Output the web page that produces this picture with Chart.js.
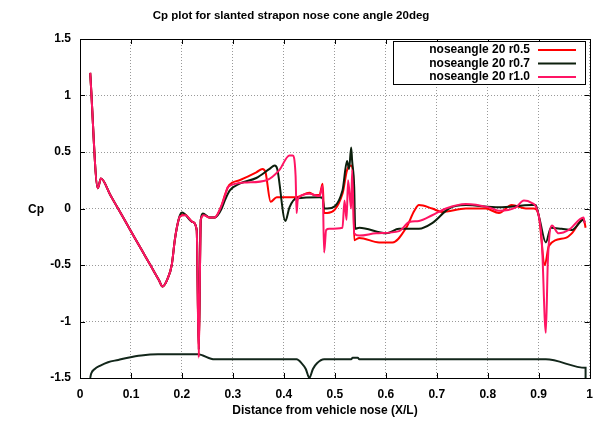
<!DOCTYPE html>
<html>
<head>
<meta charset="utf-8">
<script src="https://cdn.jsdelivr.net/npm/chart.js@4/dist/chart.umd.min.js"></script>
<style>
  html, body { margin: 0; padding: 0; background: #fff; }
</style>
</head>
<body>
<canvas id="myChart" width="602" height="421"></canvas>
<script>
'use strict'
// Cp vs X/L
const xTicks = [0, 0.1, 0.2, 0.3, 0.4, 0.5, 0.6, 0.7, 0.8, 0.9, 1];
const yTicks = [-1.5, -1, -0.5, 0, 0.5, 1, 1.5];
const seriesNames = ['noseangle 20 r0.5', 'noseangle 20 r0.7', 'noseangle 20 r1.0'];

// shared nose part of all three runs
const noseX = [0.02, 0.035, 0.041, 0.06, 0.08, 0.098, 0.12, 0.14, 0.155, 0.162, 0.172, 0.18, 0.186, 0.19];
const noseY = [1.2, 0.18, 0.265, 0.115, -0.043, -0.185, -0.359, -0.516, -0.635, -0.69, -0.62, -0.5, -0.28, -0.17];

const r05X = noseX.concat([0.196, 0.205, 0.221, 0.229, 0.233, 0.237, 0.243, 0.254, 0.264,
  0.27, 0.278, 0.285, 0.293, 0.313, 0.346, 0.358, 0.364, 0.374, 0.386, 0.425, 0.45, 0.46, 0.47, 0.476, 0.479, 0.485, 0.515, 0.524, 0.532, 0.536, 0.538,
  0.548, 0.587, 0.613, 0.64, 0.656, 0.665, 0.691, 0.71, 0.757, 0.796, 0.822, 0.847, 0.875, 0.89, 0.9, 0.912, 0.92, 0.953, 0.965, 0.988, 0.992]);
const r05Y = noseY.concat([-0.07, -0.05, -0.12, -0.19, -1.3, -0.1, -0.055, -0.08, -0.08,
  -0.05, 0.03, 0.13, 0.21, 0.25, 0.32, 0.35, 0.32, 0.06, 0.1, 0.1, 0.14, 0.12, 0.12, 0.22, -0.04, -0.04, 0.13, 0.34, 0.38, 0.29, -0.28,
  -0.26, -0.3, -0.3, -0.17, -0.02, 0.03, 0, -0.03, 0, 0, -0.04, 0.03, 0, 0, -0.06, -0.5, -0.33, -0.26, -0.22, -0.09, -0.17]);

const r07X = noseX.concat([0.196, 0.2, 0.221, 0.229, 0.233, 0.237, 0.241, 0.254, 0.264,
  0.27, 0.278, 0.285, 0.294, 0.313, 0.346, 0.372, 0.382, 0.387, 0.403, 0.411, 0.425, 0.47, 0.476, 0.479, 0.485, 0.515, 0.524, 0.528, 0.532, 0.534, 0.538, 0.54,
  0.548, 0.601, 0.626, 0.665, 0.691, 0.724, 0.757, 0.822, 0.886, 0.894, 0.902, 0.914, 0.924, 0.945, 0.965, 0.988, 0.99]);
const r07Y = noseY.concat([-0.06, -0.035, -0.12, -0.19, -1.25, -0.1, -0.045, -0.08, -0.08,
  -0.06, 0.0, 0.08, 0.16, 0.22, 0.27, 0.35, 0.38, 0.35, -0.11, 0.01, 0.09, 0.1, 0.09, 0, 0, 0.16, 0.42, 0.35, 0.54, 0.42, 0.19, -0.18,
  -0.17, -0.22, -0.18, -0.18, -0.13, 0, 0.03, 0.01, 0.03, 0.03, -0.1, -0.3, -0.17, -0.18, -0.19, -0.1, -0.12]);

const r10X = noseX.concat([0.196, 0.207, 0.221, 0.229, 0.233, 0.237, 0.243, 0.254, 0.264,
  0.27, 0.278, 0.285, 0.29, 0.327, 0.366, 0.391, 0.411, 0.417, 0.423, 0.425, 0.427, 0.43, 0.45, 0.47, 0.476, 0.479, 0.483, 0.489, 0.515, 0.519, 0.523,
  0.526, 0.532, 0.534, 0.538, 0.548, 0.581, 0.626, 0.646, 0.665, 0.691, 0.718, 0.757, 0.802, 0.822, 0.855, 0.871, 0.886, 0.896,
  0.906, 0.914, 0.918, 0.926, 0.939, 0.959, 0.988, 0.99]);
const r10Y = noseY.concat([-0.07, -0.06, -0.12, -0.19, -1.32, -0.1, -0.06, -0.08, -0.08,
  -0.05, 0.03, 0.12, 0.19, 0.23, 0.25, 0.34, 0.47, 0.47, 0.29, -0.04, 0.07, 0.1, 0.13, 0.11, 0.2, -0.39, -0.19, -0.18, -0.17, 0.07, -0.1,
  0.25, 0, 0.34, -0.22, -0.24, -0.22, -0.2, -0.12, -0.11, -0.06, 0, 0.04, 0.01, -0.02, 0.01, 0.07, 0.05, 0,
  -0.28, -1.1, -0.46, -0.15, -0.22, -0.19, -0.08, -0.13]);

// body outline along the bottom
const bodyX = [0.02, 0.022, 0.029, 0.04, 0.055, 0.075, 0.094, 0.12, 0.153, 0.231, 0.264, 0.425, 0.435, 0.443, 0.45, 0.457, 0.465,
  0.479, 0.532, 0.535, 0.545, 0.548, 0.914, 0.992, 0.992];
const bodyY = [-1.5, -1.46, -1.42, -1.39, -1.36, -1.34, -1.32, -1.3, -1.29, -1.29, -1.335, -1.335, -1.37, -1.42, -1.5, -1.42, -1.37,
  -1.335, -1.335, -1.32, -1.32, -1.335, -1.335, -1.41, -1.5];

const colors = ['#ff0000', '#0c1f0c', '#ff1464'];
const FONT = "'Liberation Sans', Arial, sans-serif";

function toPoints(xs, ys) {
    let pts = [];
    for (let i = 0; i < xs.length; i++) pts.push({ x: xs[i], y: ys[i] });
    return pts;
}

function lineSet(label, xs, ys, color, order) {
    return {
        label: label,
        data: toPoints(xs, ys),
        borderColor: color,
        backgroundColor: color,
        borderWidth: 2,
        pointRadius: 0,
        showLine: true,
        cubicInterpolationMode: 'monotone',
        order: order
    };
}

// gnuplot-like frame, inward ticks, title, axis labels and legend box
const decor = {
    id: 'decor',
    afterDraw(chart) {
        const ctx = chart.ctx;
        const a = chart.chartArea;
        const xs = chart.scales.x;
        const ys = chart.scales.y;
        ctx.save();
        ctx.strokeStyle = '#000';
        ctx.lineWidth = 1;
        ctx.beginPath();
        for (const v of xTicks) {
            const p = Math.round(xs.getPixelForValue(v)) + 0.5;
            ctx.moveTo(p, a.bottom); ctx.lineTo(p, a.bottom - 5);
            ctx.moveTo(p, a.top); ctx.lineTo(p, a.top + 5);
        }
        for (const v of yTicks) {
            const p = Math.round(ys.getPixelForValue(v)) + 0.5;
            ctx.moveTo(a.left, p); ctx.lineTo(a.left + 5, p);
            ctx.moveTo(a.right, p); ctx.lineTo(a.right - 5, p);
        }
        ctx.stroke();
        ctx.strokeRect(Math.round(a.left) + 0.5, Math.round(a.top) + 0.5, Math.round(a.right - a.left), Math.round(a.bottom - a.top));

        ctx.fillStyle = '#000';
        ctx.font = 'bold 11.5px ' + FONT;
        ctx.textAlign = 'center';
        ctx.textBaseline = 'middle';
        ctx.fillText('Cp plot for slanted strapon nose cone angle 20deg', 291, 16);
        ctx.font = 'bold 12px ' + FONT;
        ctx.fillText('Cp', 36, 210);
        ctx.fillText('Distance from vehicle nose (X/L)', 325, 411);

        // legend
        const bx = 393, by = 41, bw = 192, bh = 43;
        ctx.fillStyle = '#fff';
        ctx.fillRect(bx, by, bw, bh);
        ctx.strokeStyle = '#000';
        ctx.strokeRect(bx + 0.5, by + 0.5, bw, bh);
        ctx.textAlign = 'right';
        for (let i = 0; i < seriesNames.length; i++) {
            const ty = by + 9 + i * 13.5;
            ctx.fillStyle = '#000';
            ctx.fillText(seriesNames[i], 530, ty);
            ctx.strokeStyle = colors[i];
            ctx.lineWidth = 2;
            ctx.beginPath();
            ctx.moveTo(538, ty);
            ctx.lineTo(576, ty);
            ctx.stroke();
            ctx.lineWidth = 1;
        }
        ctx.restore();
    }
};

const ctx = document.getElementById('myChart');
const myChart = new Chart(ctx, {
    type: 'scatter',
    data: {
        datasets: [
            lineSet(seriesNames[0], r05X, r05Y, colors[0], 3),
            lineSet(seriesNames[1], r07X, r07Y, colors[1], 2),
            lineSet(seriesNames[2], r10X, r10Y, colors[2], 1),
            lineSet('body', bodyX, bodyY, '#12261a', 4)
        ]
    },
    options: {
        responsive: false,
        animation: false,
        layout: { padding: { top: 39, right: 11, left: 0, bottom: 0 } },
        plugins: {
            legend: { display: false },
            title: { display: false },
            tooltip: { enabled: false }
        },
        scales: {
            x: {
                type: 'linear',
                min: 0,
                max: 1,
                afterFit(scale) { scale.height = 43; },
                afterBuildTicks(scale) { scale.ticks = xTicks.map(v => ({ value: v })); },
                ticks: {
                    padding: 9,
                    color: '#000',
                    font: { family: FONT, size: 12, weight: 'bold' },
                    callback: v => String(Math.round(v * 10) / 10)
                },
                grid: { color: '#999', borderDash: [1, 2], drawTicks: false },
                border: { display: false, dash: [1, 2] }
            },
            y: {
                type: 'linear',
                min: -1.5,
                max: 1.5,
                afterFit(scale) { scale.width = 80; },
                afterBuildTicks(scale) { scale.ticks = yTicks.map(v => ({ value: v })); },
                ticks: {
                    padding: 9,
                    color: '#000',
                    font: { family: FONT, size: 12, weight: 'bold' },
                    callback: v => String(v)
                },
                grid: { color: '#999', borderDash: [1, 2], drawTicks: false },
                border: { display: false, dash: [1, 2] }
            }
        }
    },
    plugins: [decor]
});
</script>
</body>
</html>
